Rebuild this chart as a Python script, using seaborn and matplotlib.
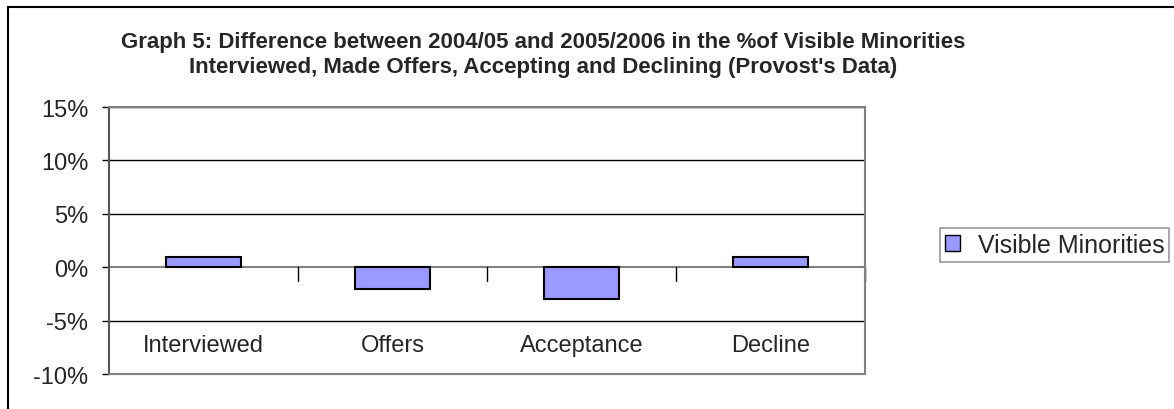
import matplotlib
matplotlib.use("Agg")
import matplotlib.pyplot as plt
import seaborn as sns
import pandas as pd
from matplotlib.patches import Rectangle
from matplotlib.ticker import FuncFormatter

categories = ["Interviewed", "Offers", "Acceptance", "Decline"]
values = [0.01, -0.02, -0.03, 0.01]
series_name = "Visible Minorities"
yticks = [-0.10, -0.05, 0.0, 0.05, 0.10, 0.15]
title = ("Graph 5: Difference between 2004/05 and 2005/2006 in the %of Visible Minorities\n"
         "Interviewed, Made Offers, Accepting and Declining (Provost's Data)")

sns.set_style("white")
plt.rcParams['font.family'] = ['Liberation Sans', 'DejaVu Sans']

df = pd.DataFrame({"cat": categories, "val": values})

fig = plt.figure(figsize=(11.74, 4.10), dpi=100)
ax = fig.add_axes([109/1174, 1-375/410, (865-109)/1174, (375-108)/410])

bar_color = "#9999FF"
sns.barplot(data=df, x="cat", y="val", color=bar_color, width=0.4,
            edgecolor="black", linewidth=1.5, ax=ax, zorder=3, saturation=1)

ax.set_ylim(-0.10, 0.15)
ax.set_xlim(-0.5, len(categories) - 0.5)
ax.set_yticks(yticks)
ax.yaxis.set_major_formatter(FuncFormatter(lambda v, p: f"{v*100:.0f}%"))
ax.tick_params(axis="y", labelsize=17, length=5, width=1, color="black", direction="out", pad=10, left=True)
for t in yticks:
    if t not in (0.0, -0.10):
        ax.axhline(t, color="black", lw=1, zorder=1)
ax.axhline(0, color="#808080", lw=1.5, zorder=2)
ax.set_xticks([])
ax.set_xlabel("")
ax.set_ylabel("")

# category boundary ticks hanging below zero line
for b in [0.5, 1.5, 2.5, 3.5]:
    ax.plot([b, b], [0, -0.013], color="black", lw=1, zorder=2, clip_on=False)

# category labels
for i, c in enumerate(categories):
    ax.text(i, -0.0725, c, ha="center", va="center", fontsize=17)

for side in ["left", "right", "bottom", "top"]:
    ax.spines[side].set_visible(True)
    ax.spines[side].set_linewidth(1.5)
ax.spines["left"].set_color("#555555")
ax.spines["right"].set_color("#808080")
ax.spines["bottom"].set_color("#808080")
ax.spines["top"].set_color("#808080")

fig.text(543/1174, 1-55/410, title, ha="center", va="center", fontsize=16,
         fontweight="bold", linespacing=1.3)

# legend
handle = Rectangle((0, 0), 1, 1, facecolor=bar_color, edgecolor="black", lw=1)
leg = fig.legend([handle], [series_name], loc="center left",
                 bbox_to_anchor=(940/1174, 1-246/410), fontsize=18, frameon=True,
                 fancybox=False, edgecolor="#808080", handlelength=0.6, handleheight=0.6,
                 handletextpad=0.7, borderpad=0.2, borderaxespad=0)
leg.get_frame().set_linewidth(1.2)

# outer chart border
fig.patches.append(Rectangle((8/1174, -0.1), 1.2, 1 - 8/410 + 0.1, transform=fig.transFigure,
                             fill=False, edgecolor="black", lw=1.5))

fig.savefig("out.png", dpi=100)
